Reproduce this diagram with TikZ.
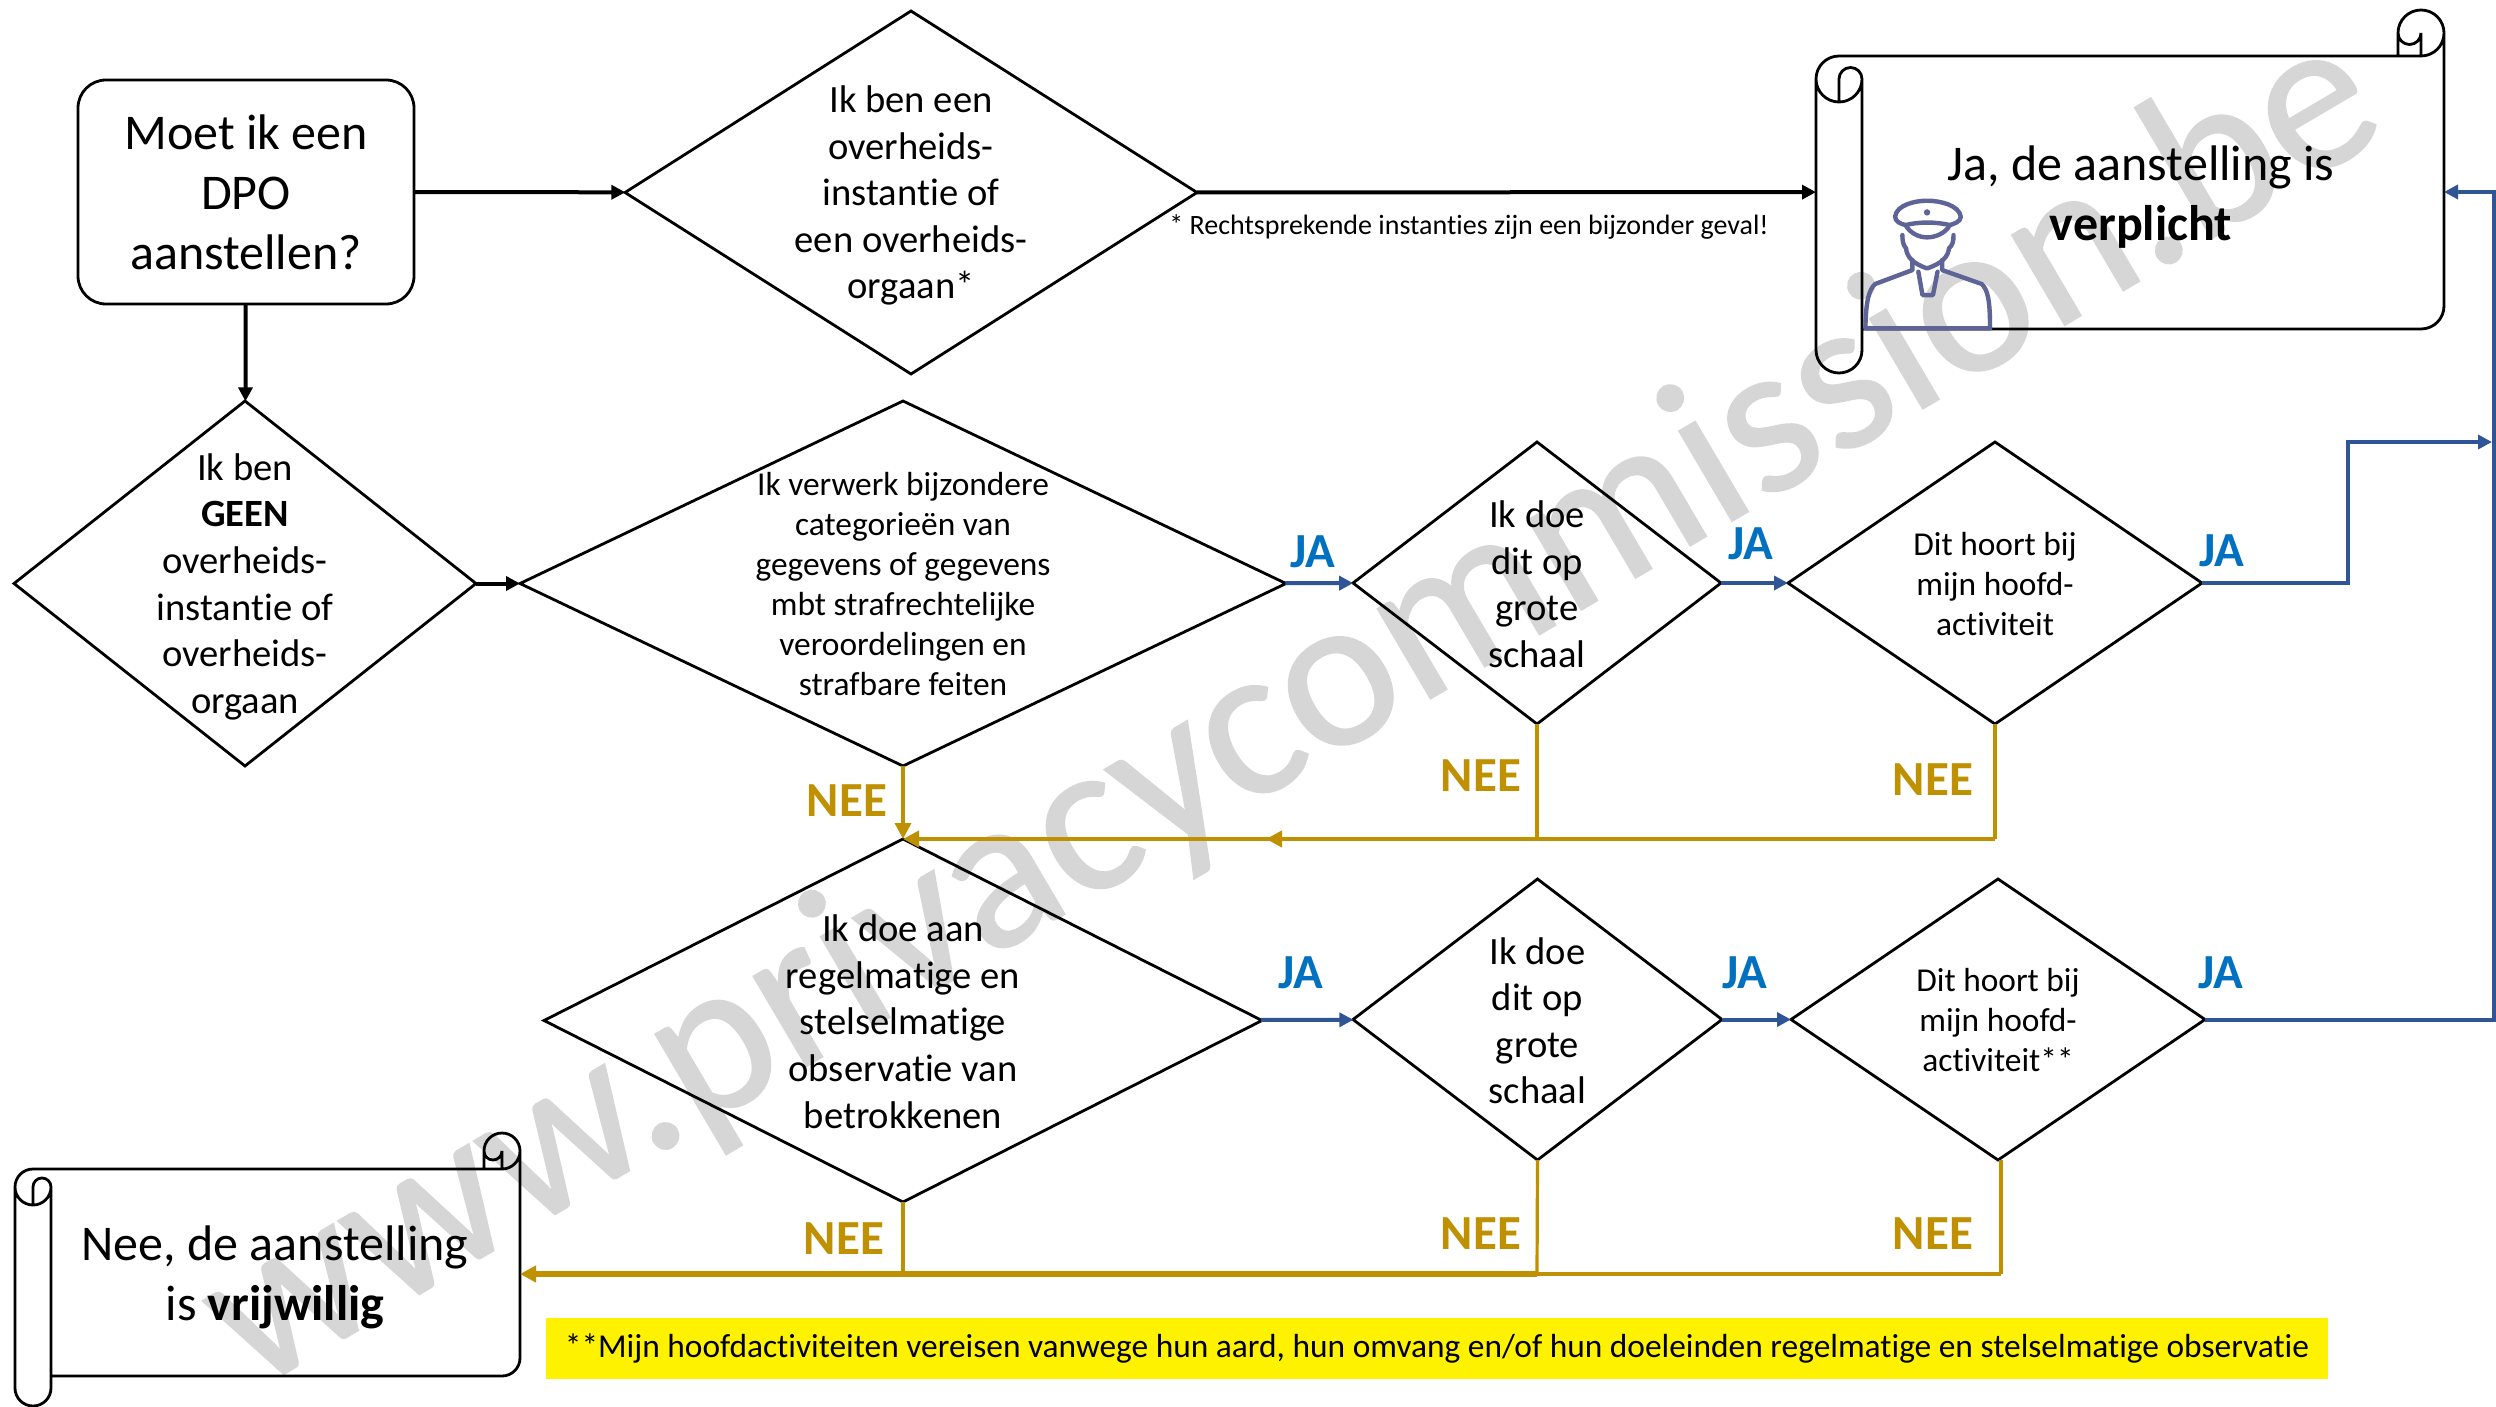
\documentclass[tikz,border=0pt]{standalone}
\usepackage{fontspec}
\setmainfont[Ligatures=NoCommon]{Carlito}
\newfontfamily\wmfont[FakeBold=0.7,Ligatures=NoCommon]{Carlito}
\usetikzlibrary{shapes.geometric,arrows.meta}
\definecolor{jablue}{HTML}{2F5597}
\definecolor{jatext}{HTML}{0070C0}
\definecolor{neegold}{HTML}{BF9000}
\definecolor{wmgrey}{HTML}{D6D6D6}
\definecolor{cop}{HTML}{5F6496}
\newcommand{\scrollshape}[6]{%
  \pgfmathsetmacro{\rr}{#6*0.5}%
  \pgfmathsetmacro{\rs}{#6*0.25}%
  \draw[scrollline]
    ({#1},{#2+#6}) arc[start angle=180,end angle=90,radius=\rr pt]
    -- ({#3-#6},{#2}) arc[start angle=270,end angle=360,radius=\rr pt]
    arc[start angle=0,end angle=180,radius=\rr pt]
    -- ({#3-2*#6},{#2})
    ({#3-2*#6},{#2-#6}) arc[start angle=180,end angle=360,radius=\rs pt]
    -- ({#3-#6},{#2})
    ({#3},{#2-#6}) -- ({#3},{#4-#6}) arc[start angle=0,end angle=-90,radius=\rr pt]
    -- ({#1+2*#6},{#4})
    ({#1+2*#6},{#2+#6}) -- ({#1+2*#6},{#5-#6}) arc[start angle=0,end angle=-180,radius=\rr pt]
    -- ({#1},{#2+#6})
    arc[start angle=180,end angle=360,radius=\rr pt]
    arc[start angle=0,end angle=180,radius=\rs pt]
    -- ({#1+#6},{#2+2*#6});
}
\tikzset{
  x=0.5pt,y=-0.5pt,
  dia/.style 2 args={diamond,draw=black,line width=1.4pt,inner sep=0pt,outer sep=0pt,
    minimum width=#1*0.5pt,minimum height=#2*0.5pt},
  tb/.style={align=center,inner sep=0pt,yshift=-0.6pt,font=\fontsize{19.3}{23.3}\selectfont},
  ts/.style={align=center,inner sep=0pt,yshift=-0.5pt,font=\fontsize{16.7}{20}\selectfont},
  tl/.style={align=center,inner sep=0pt,font=\fontsize{25}{30}\selectfont},
  ghost/.style={rectangle,inner sep=0pt,outer sep=0pt},
  scrollline/.style={draw=black,line width=1.4pt},
  blk/.style={draw=black,line width=2pt,-{Triangle[length=7pt,width=7pt]}},
  ja/.style={draw=jablue,line width=2pt,-{Triangle[length=7pt,width=7pt]}},
  nee/.style={draw=neegold,line width=2.4pt,-{Triangle[length=8pt,width=8pt]}},
  neev/.style={draw=neegold,line width=1.6pt},
  neethick/.style={draw=neegold,line width=3.4pt},
  jal/.style={text=jatext,inner sep=0pt,font=\fontsize{24.5}{28}\selectfont\bfseries},
  neel/.style={text=neegold,inner sep=0pt,font=\fontsize{24.5}{28}\selectfont\bfseries},
  coplin/.style={draw=cop,line width=2.2pt,line join=round,line cap=round},
}
\begin{document}
\begin{tikzpicture}
\useasboundingbox (0,0) rectangle (2496,1407);
\fill[white] (0,0) rectangle (2496,1407);
% watermark
\node[rotate=30.5,text=wmgrey,inner sep=0pt,font=\fontsize{109.5}{120}\wmfont] (wm) at (1293,712) {www.privacycommission.be};
% highlighted note
\node[rectangle,fill=yellow,minimum width=891pt,minimum height=30.5pt,inner sep=0pt,font=\fontsize{16.7}{19}\selectfont] (note) at (1437,1348.5) {**Mijn hoofdactiviteiten vereisen vanwege hun aard, hun omvang en/of hun doeleinden regelmatige en stelselmatige observatie};
% start
\node[rectangle,draw=black,line width=1.4pt,rounded corners=14pt,minimum width=168pt,minimum height=112pt,inner sep=0pt,outer sep=0pt,align=center,font=\fontsize{25}{30}\selectfont] (start) at (246,192) {Moet ik een\\DPO\\aanstellen?};
% diamonds
\node[dia={572}{363},label={[tb,yshift=-1.0pt]center:Ik ben een\\overheids-\\instantie of\\een overheids-\\orgaan*}] (d1) at (911,192.5) {};
\node[dia={462}{365},label={[tb,yshift=-1.0pt]center:Ik ben\\\textbf{GEEN}\\overheids-\\instantie of\\overheids-\\orgaan}] (d2) at (245,583.5) {};
\node[dia={766}{365},label={[ts]center:Ik verwerk bijzondere\\categorieën van\\gegevens of gegevens\\mbt strafrechtelijke\\veroordelingen en\\strafbare feiten}] (d3) at (903,583.5) {};
\node[dia={368}{282},label={[tb]center:Ik doe\\dit op\\grote\\schaal}] (d4) at (1537,583) {};
\node[dia={414}{282},label={[ts]center:Dit hoort bij\\mijn hoofd-\\activiteit}] (d5) at (1995,583) {};
\node[dia={718}{363},label={[tb]center:Ik doe aan\\regelmatige en\\stelselmatige\\observatie van\\betrokkenen}] (d6) at (903,1020.5) {};
\node[dia={369}{281},label={[tb]center:Ik doe\\dit op\\grote\\schaal}] (d7) at (1537.5,1019.5) {};
\node[dia={414}{281},label={[ts]center:Dit hoort bij\\mijn hoofd-\\activiteit**}] (d8) at (1998,1019.5) {};
% scrolls
\scrollshape{1816}{56}{2444}{329}{373}{23}
\scrollshape{15}{1169}{520}{1376}{1406}{18}
\node[ghost,minimum width=314pt,minimum height=136pt] (s1) at (2130,192) {};
\node[ghost,minimum width=252.5pt,minimum height=103pt] (s2) at (267.5,1273) {};
\node[tl] (s1t) at (2141,197) {Ja, de aanstelling is\\\textbf{verplicht}};
\node[tl] (s2t) at (275,1277) {Nee, de aanstelling\\is \textbf{vrijwillig}};
% footnote on the first arrow
\node[inner sep=0pt,font=\fontsize{14}{16}\selectfont] (fn) at (1469,227) {* Rechtsprekende instanties zijn een bijzonder geval!};
% routing points
\coordinate (bvtop) at (2494,192);
\coordinate (b2) at (2348,442);
\coordinate (b3) at (2492,442);
\coordinate (m1) at (1266,839);
\coordinate (g5) at (1995,839);
\coordinate (g4a) at (1537,839);
\coordinate (g4) at (1537,1274);
\coordinate (g8) at (2001,1274);
\coordinate (g8top) at (2001,1160);
\coordinate (g6) at (903,1274);
\coordinate (g2) at (520,1274);
% black connectors
\draw[blk] (start) -- (d1);
\draw[blk] (d1) -- (s1);
\draw[blk] (start) -- (d2);
\draw[blk] (d2) -- (d3);
% blue connectors
\draw[ja] (d3) -- (d4);
\draw[ja] (d4) -- (d5);
\draw[ja] (d5.east) -| (b2) -- (b3);
\draw[ja] (d6) -- (d7);
\draw[ja] (d7) -- (d8);
\draw[ja] (d8.east) -| (bvtop) -- (s1.east);
% gold connectors
\draw[nee,line width=1.7pt] (d3.south) -- (d6.north);
\draw[neev] (d5.south) -- (g5);
\draw[nee] (g5) -- (d6.north);
\draw[neev] (d4.south) -- (g4a);
\draw[nee] (g4a) -- (m1);
\draw[neev] (g8top) -- (g8);
\draw[nee,line width=2pt,-] (g8) -- (g4);
\draw[neev] (d7.south) -- (g4);
\draw[neev] (d6.south) -- (g6);
\draw[neethick,-{Triangle[length=8pt,width=8pt]}] (g4) -- (g2);
% labels
\node[jal] (ja1) at (1313,552) {JA};
\node[jal] (ja2) at (1751,544) {JA};
\node[jal] (ja3) at (2222,551) {JA};
\node[jal] (ja4) at (1301,973) {JA};
\node[jal] (ja5) at (1745,973) {JA};
\node[jal] (ja6) at (2221,973) {JA};
\node[neel] (ne1) at (847,801) {NEE};
\node[neel] (ne2) at (1481,776) {NEE};
\node[neel] (ne3) at (1933,780) {NEE};
\node[neel] (ne4) at (844,1239) {NEE};
\node[neel] (ne5) at (1481,1234) {NEE};
\node[neel] (ne6) at (1933,1234) {NEE};
% officer icon
\begin{scope}[shift={(1780,0)},x=0.2283pt,y=-0.1667pt]
  \draw[coplin] (252,650) .. controls (255,615) and (295,602) .. (322,602)
     .. controls (350,602) and (392,615) .. (396,650)
     .. controls (396,665) and (380,672) .. (372,675)
     .. controls (340,665) and (305,665) .. (275,675)
     .. controls (265,672) and (252,665) .. (252,650) -- cycle;
  \draw[coplin] (275,675) .. controls (285,700) and (305,712) .. (322,712)
     .. controls (340,712) and (362,700) .. (372,675);
  \fill[cop] (322,637) circle[radius=1.6pt];
  \draw[coplin] (268,705) .. controls (268,725) and (270,735) .. (276,745)
     .. controls (278,770) and (290,790) .. (322,805)
     .. controls (355,790) and (368,770) .. (370,745)
     .. controls (378,735) and (380,725) .. (380,705);
  \draw[coplin] (290,780) -- (290,810) -- (208,852)
     .. controls (195,870) and (188,900) .. (187,985) -- (460,985)
     .. controls (460,900) and (455,870) .. (442,852) -- (355,810) -- (355,780);
  \draw[coplin] (303,815) -- (312,885) -- (335,885) -- (345,815);
\end{scope}
\end{tikzpicture}
\end{document}
